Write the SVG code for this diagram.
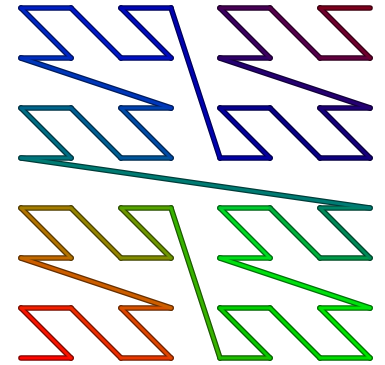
<svg xmlns="http://www.w3.org/2000/svg" xmlns:xlink="http://www.w3.org/1999/xlink" width="385" height="365" viewBox="0 0 385 365">
<defs>
<filter id="dk" color-interpolation-filters="sRGB" x="-5%" y="-5%" width="110%" height="110%">
<feComponentTransfer><feFuncR type="linear" slope="0.5"/><feFuncG type="linear" slope="0.5"/><feFuncB type="linear" slope="0.5"/></feComponentTransfer>
</filter>
<g id="curve" fill="none" stroke-linecap="round" stroke-linejoin="round">
<line x1="21" y1="358" x2="71" y2="358" stroke="rgb(252,6,0)"/>
<line x1="71" y1="358" x2="21" y2="308" stroke="rgb(248,19,0)"/>
<line x1="21" y1="308" x2="71" y2="308" stroke="rgb(242,31,0)"/>
<line x1="71" y1="308" x2="121" y2="358" stroke="rgb(237,44,0)"/>
<line x1="121" y1="358" x2="171" y2="358" stroke="rgb(231,56,0)"/>
<line x1="171" y1="358" x2="121" y2="308" stroke="rgb(222,69,0)"/>
<line x1="121" y1="308" x2="171" y2="308" stroke="rgb(213,81,0)"/>
<line x1="171" y1="308" x2="21" y2="258" stroke="rgb(204,94,0)"/>
<line x1="21" y1="258" x2="71" y2="258" stroke="rgb(193,105,0)"/>
<line x1="71" y1="258" x2="21" y2="208" stroke="rgb(178,115,0)"/>
<line x1="21" y1="208" x2="71" y2="208" stroke="rgb(163,124,0)"/>
<line x1="71" y1="208" x2="121" y2="258" stroke="rgb(148,131,0)"/>
<line x1="121" y1="258" x2="171" y2="258" stroke="rgb(130,140,0)"/>
<line x1="171" y1="258" x2="121" y2="208" stroke="rgb(110,150,0)"/>
<line x1="121" y1="208" x2="171" y2="208" stroke="rgb(85,163,0)"/>
<line x1="171" y1="208" x2="220" y2="358" stroke="rgb(55,178,0)"/>
<line x1="220" y1="358" x2="270" y2="358" stroke="rgb(30,190,0)"/>
<line x1="270" y1="358" x2="220" y2="308" stroke="rgb(10,200,0)"/>
<line x1="220" y1="308" x2="270" y2="308" stroke="rgb(0,208,0)"/>
<line x1="270" y1="308" x2="320" y2="358" stroke="rgb(0,214,0)"/>
<line x1="320" y1="358" x2="370" y2="358" stroke="rgb(0,220,0)"/>
<line x1="370" y1="358" x2="320" y2="308" stroke="rgb(0,227,0)"/>
<line x1="320" y1="308" x2="370" y2="308" stroke="rgb(0,228,5)"/>
<line x1="370" y1="308" x2="220" y2="258" stroke="rgb(0,224,15)"/>
<line x1="220" y1="258" x2="270" y2="258" stroke="rgb(0,221,25)"/>
<line x1="270" y1="258" x2="220" y2="208" stroke="rgb(0,217,35)"/>
<line x1="220" y1="208" x2="270" y2="208" stroke="rgb(0,203,47)"/>
<line x1="270" y1="208" x2="320" y2="258" stroke="rgb(0,178,60)"/>
<line x1="320" y1="258" x2="370" y2="258" stroke="rgb(0,153,73)"/>
<line x1="370" y1="258" x2="320" y2="208" stroke="rgb(0,137,87)"/>
<line x1="320" y1="208" x2="370" y2="208" stroke="rgb(0,131,102)"/>
<line x1="370" y1="208" x2="21" y2="158" stroke="rgb(0,123,115)"/>
<line x1="21" y1="158" x2="71" y2="158" stroke="rgb(0,116,124)"/>
<line x1="71" y1="158" x2="21" y2="108" stroke="rgb(0,109,131)"/>
<line x1="21" y1="108" x2="71" y2="108" stroke="rgb(0,101,139)"/>
<line x1="71" y1="108" x2="121" y2="158" stroke="rgb(0,94,146)"/>
<line x1="121" y1="158" x2="171" y2="158" stroke="rgb(0,85,155)"/>
<line x1="171" y1="158" x2="121" y2="108" stroke="rgb(0,75,165)"/>
<line x1="121" y1="108" x2="171" y2="108" stroke="rgb(0,65,175)"/>
<line x1="171" y1="108" x2="21" y2="58" stroke="rgb(0,55,185)"/>
<line x1="21" y1="58" x2="71" y2="58" stroke="rgb(0,46,191)"/>
<line x1="71" y1="58" x2="21" y2="8" stroke="rgb(0,39,194)"/>
<line x1="21" y1="8" x2="71" y2="8" stroke="rgb(0,31,196)"/>
<line x1="71" y1="8" x2="121" y2="58" stroke="rgb(0,24,199)"/>
<line x1="121" y1="58" x2="171" y2="58" stroke="rgb(0,16,196)"/>
<line x1="171" y1="58" x2="121" y2="8" stroke="rgb(0,11,189)"/>
<line x1="121" y1="8" x2="171" y2="8" stroke="rgb(0,6,181)"/>
<line x1="171" y1="8" x2="220" y2="158" stroke="rgb(0,2,174)"/>
<line x1="220" y1="158" x2="270" y2="158" stroke="rgb(1,0,165)"/>
<line x1="270" y1="158" x2="220" y2="108" stroke="rgb(4,0,155)"/>
<line x1="220" y1="108" x2="270" y2="108" stroke="rgb(6,0,145)"/>
<line x1="270" y1="108" x2="320" y2="158" stroke="rgb(9,0,135)"/>
<line x1="320" y1="158" x2="370" y2="158" stroke="rgb(14,0,128)"/>
<line x1="370" y1="158" x2="320" y2="108" stroke="rgb(21,0,123)"/>
<line x1="320" y1="108" x2="370" y2="108" stroke="rgb(29,0,118)"/>
<line x1="370" y1="108" x2="220" y2="58" stroke="rgb(36,0,113)"/>
<line x1="220" y1="58" x2="270" y2="58" stroke="rgb(46,0,105)"/>
<line x1="270" y1="58" x2="220" y2="8" stroke="rgb(59,0,95)"/>
<line x1="220" y1="8" x2="270" y2="8" stroke="rgb(71,0,85)"/>
<line x1="270" y1="8" x2="320" y2="58" stroke="rgb(84,0,75)"/>
<line x1="320" y1="58" x2="370" y2="58" stroke="rgb(97,0,62)"/>
<line x1="370" y1="58" x2="320" y2="8" stroke="rgb(110,0,45)"/>
<line x1="320" y1="8" x2="370" y2="8" stroke="rgb(123,0,28)"/>
</g>
</defs>
<rect width="385" height="365" fill="#ffffff"/>
<g id="connectors">
<use xlink:href="#curve" href="#curve" stroke-width="5.6" filter="url(#dk)"/>
<use xlink:href="#curve" href="#curve" stroke-width="3"/>
</g>
</svg>
